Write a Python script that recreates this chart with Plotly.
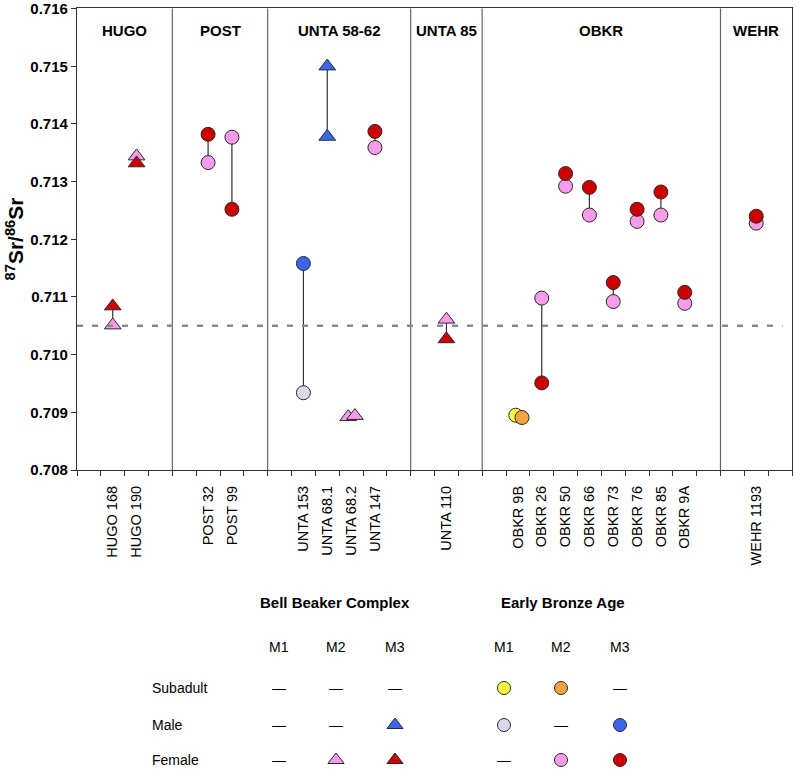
import plotly.graph_objects as go

# --- data -------------------------------------------------------------
# individuals along the x axis and their slot position (one slot = 1 unit)
samples = ["HUGO 168", "HUGO 190", "POST 32", "POST 99", "UNTA 153", "UNTA 68.1",
           "UNTA 68.2", "UNTA 147", "UNTA 110", "OBKR 9B", "OBKR 26", "OBKR 50",
           "OBKR 66", "OBKR 73", "OBKR 76", "OBKR 85", "OBKR 9A", "WEHR 1193"]
sample_pos = [1.5, 2.5, 5.5, 6.5, 9.5, 10.5, 11.5, 12.5, 15.5, 18.5, 19.5, 20.5,
              21.5, 22.5, 23.5, 24.5, 25.5, 28.5]

sites = ["HUGO", "POST", "UNTA 58-62", "UNTA 85", "OBKR", "WEHR"]
site_edges = [0, 4, 8, 14, 17, 27, 30]

y_ticks = [0.708, 0.709, 0.710, 0.711, 0.712, 0.713, 0.714, 0.715, 0.716]
local_baseline = 0.7105

# Bell Beaker Complex (triangles)
bbc_m_m3_samples = ["UNTA 68.1", "UNTA 68.1"]
bbc_m_m3_values = [0.71500, 0.71378]
bbc_f_m2_samples = ["HUGO 168", "HUGO 190", "UNTA 68.2", "UNTA 68.2", "UNTA 110"]
bbc_f_m2_values = [0.71051, 0.71344, 0.70892, 0.70894, 0.71061]
bbc_f_m3_samples = ["HUGO 168", "HUGO 190", "UNTA 110"]
bbc_f_m3_values = [0.71084, 0.71332, 0.71027]

# Early Bronze Age (circles)
eba_s_m1_samples = ["OBKR 9B"]
eba_s_m1_values = [0.70895]
eba_s_m2_samples = ["OBKR 9B"]
eba_s_m2_values = [0.70891]
eba_m_m1_samples = ["UNTA 153"]
eba_m_m1_values = [0.70934]
eba_m_m3_samples = ["UNTA 153"]
eba_m_m3_values = [0.71158]
eba_f_m2_samples = ["POST 32", "POST 99", "UNTA 147", "OBKR 26", "OBKR 50", "OBKR 66",
                    "OBKR 73", "OBKR 76", "OBKR 85", "OBKR 9A", "WEHR 1193"]
eba_f_m2_values = [0.71333, 0.71377, 0.71359, 0.71098, 0.71292, 0.71242,
                   0.71092, 0.71231, 0.71242, 0.71089, 0.71228]
eba_f_m3_samples = ["POST 32", "POST 99", "UNTA 147", "OBKR 26", "OBKR 50", "OBKR 66",
                    "OBKR 73", "OBKR 76", "OBKR 85", "OBKR 9A", "WEHR 1193"]
eba_f_m3_values = [0.71382, 0.71252, 0.71387, 0.70951, 0.71314, 0.71290,
                   0.71125, 0.71252, 0.71282, 0.71108, 0.71240]

# (name, period, sex, molar, samples, values) in drawing order
series = [
    ("eba_m_m1", "eba", "Male", "M1", eba_m_m1_samples, eba_m_m1_values),
    ("eba_m_m3", "eba", "Male", "M3", eba_m_m3_samples, eba_m_m3_values),
    ("eba_s_m1", "eba", "Subadult", "M1", eba_s_m1_samples, eba_s_m1_values),
    ("eba_s_m2", "eba", "Subadult", "M2", eba_s_m2_samples, eba_s_m2_values),
    ("eba_f_m2", "eba", "Female", "M2", eba_f_m2_samples, eba_f_m2_values),
    ("eba_f_m3", "eba", "Female", "M3", eba_f_m3_samples, eba_f_m3_values),
    ("bbc_f_m2", "bbc", "Female", "M2", bbc_f_m2_samples, bbc_f_m2_values),
    ("bbc_f_m3", "bbc", "Female", "M3", bbc_f_m3_samples, bbc_f_m3_values),
    ("bbc_m_m3", "bbc", "Male", "M3", bbc_m_m3_samples, bbc_m_m3_values),
]

# --- styling ----------------------------------------------------------
FONT = "Liberation Sans"
colors = {
    ("Subadult", "M1"): "#FFFF44",
    ("Subadult", "M2"): "#F8A344",
    ("Male", "M1"): "#D8DAF4",
    ("Male", "M3"): "#3A66EC",
    ("Female", "M2"): "#F79CEA",
    ("Female", "M3"): "#CC0000",
}
symbols = {"bbc": "triangle-up", "eba": "circle"}
sizes = {"bbc": 14.5, "eba": 14}
# small sideways shifts for points that would sit on top of each other
jitter = {("bbc_f_m2", 2): -0.12, ("bbc_f_m2", 3): 0.16,
          ("eba_s_m1", 0): -0.09, ("eba_s_m2", 0): 0.17}

pos_of = dict(zip(samples, sample_pos))

fig = go.Figure()

# connectors between the two teeth of one individual
points = {}
for name, period, sex, molar, s_list, v_list in series:
    for i, (s, v) in enumerate(zip(s_list, v_list)):
        x = pos_of[s] + jitter.get((name, i), 0)
        points.setdefault(s, []).append((x, v))
cx, cy = [], []
for s, pts in points.items():
    xs = {p[0] for p in pts}
    if len(pts) > 1 and len(xs) == 1:
        ys = [p[1] for p in pts]
        cx += [pts[0][0], pts[0][0], None]
        cy += [min(ys), max(ys), None]
fig.add_trace(go.Scatter(x=cx, y=cy, mode="lines", line=dict(color="#333333", width=1.2),
                         hoverinfo="skip", showlegend=False))

for name, period, sex, molar, s_list, v_list in series:
    xs = [pos_of[s] + jitter.get((name, i), 0) for i, s in enumerate(s_list)]
    fig.add_trace(go.Scatter(
        x=xs, y=v_list, mode="markers", name=name, showlegend=False,
        marker=dict(symbol=symbols[period], size=sizes[period], color=colors[(sex, molar)],
                    line=dict(color="#2a2a2a", width=1)),
    ))

# site dividers and local baseline
for e in site_edges[1:-1]:
    fig.add_shape(type="line", x0=e, x1=e, y0=y_ticks[0], y1=y_ticks[-1], xref="x", yref="y",
                  line=dict(color="#666666", width=1.2))
fig.add_shape(type="line", x0=0, x1=29.6, y0=local_baseline, y1=local_baseline,
              xref="x", yref="y", line=dict(color="#8a8a8a", width=2.5, dash="6px,9px"))

# site headers
for i, site in enumerate(sites):
    fig.add_annotation(x=(site_edges[i] + site_edges[i + 1]) / 2, y=0.71562, xref="x", yref="y",
                       text=site, showarrow=False,
                       font=dict(family=FONT, size=15, color="black", weight="bold"))

# --- legend matrix (drawn on a hidden pixel-scaled axis pair) ----------
legend_cols = {"bbc": [279, 336, 395], "eba": [504, 561, 620]}
legend_head_x = {"bbc": 335, "eba": 563}
legend_titles = {"bbc": "Bell Beaker Complex", "eba": "Early Bronze Age"}
legend_rows = {"Subadult": 82, "Male": 45, "Female": 10}
molars = ["M1", "M2", "M3"]
head_y, molar_y, label_x = 168, 123, 150

have = {(p, s, m) for _, p, s, m, _, _ in series}
for period in ["bbc", "eba"]:
    fig.add_annotation(x=legend_head_x[period], y=head_y, xref="x2", yref="y2",
                       text=legend_titles[period], showarrow=False,
                       font=dict(family=FONT, size=15, color="black", weight="bold"))
    lx, ly, lc = [], [], []
    for j, m in enumerate(molars):
        colx = legend_cols[period][j]
        fig.add_annotation(x=colx, y=molar_y, xref="x2", yref="y2", text=m, showarrow=False,
                           font=dict(family=FONT, size=14, color="black"))
        for sex, ry in legend_rows.items():
            if (period, sex, m) in have:
                lx.append(colx)
                ly.append(ry)
                lc.append(colors[(sex, m)])
            else:
                fig.add_annotation(x=colx, y=ry, xref="x2", yref="y2", text="\u2014",
                                   showarrow=False, font=dict(family=FONT, size=14, color="black"))
    fig.add_trace(go.Scatter(
        x=lx, y=ly, xaxis="x2", yaxis="y2", mode="markers", showlegend=False,
        cliponaxis=False, hoverinfo="skip",
        marker=dict(symbol=symbols[period], size=14 if period == "bbc" else 13, color=lc,
                    line=dict(color="#2a2a2a", width=1)),
    ))
for sex, ry in legend_rows.items():
    fig.add_annotation(x=label_x, y=ry, xref="x2", yref="y2", text=sex, showarrow=False,
                       xanchor="left", font=dict(family=FONT, size=14, color="black"))

axis_line = dict(showline=True, linecolor="#333333", linewidth=1.3, mirror=True,
                 showgrid=False, zeroline=False, automargin=False)
fig.update_layout(
    width=796, height=770,
    margin=dict(l=0, r=0, t=0, b=0),
    paper_bgcolor="white", plot_bgcolor="white",
    font=dict(family=FONT, color="black"),
    xaxis=dict(
        domain=[77 / 796, 792 / 796], range=[0, 30], anchor="y",
        tickmode="array", tickvals=sample_pos, ticktext=samples, tickangle=-90,
        ticks="", ticklabelstandoff=9, tickfont=dict(family=FONT, size=14.5, color="black"),
        minor=dict(ticks="outside", dtick=1, tick0=0, ticklen=5, tickcolor="#333333"),
        **axis_line,
    ),
    yaxis=dict(
        domain=[300 / 770, 762 / 770], range=[y_ticks[0], y_ticks[-1] + 0.00001], anchor="x",
        tickmode="array", tickvals=y_ticks, ticktext=[f"{v:.3f}" for v in y_ticks],
        ticks="outside", ticklen=5, tickcolor="#333333", ticklabeloverflow="allow",
        tickfont=dict(family=FONT, size=15, color="black", weight="bold"),
        title=dict(text="<sup>87</sup>Sr/<sup>86</sup>Sr", standoff=0,
                   font=dict(family=FONT, size=21, color="black", weight="bold")),
        **axis_line,
    ),
    xaxis2=dict(domain=[0, 1], range=[0, 796], anchor="y2", visible=False, fixedrange=True,
                automargin=False),
    yaxis2=dict(domain=[0, 170 / 770], range=[0, 170], anchor="x2", visible=False, fixedrange=True,
                automargin=False),
)

# drop the browser's default 8px page margin so the figure sits at the window corner
fig.write_html("out.html", config={"displayModeBar": False},
               post_script="document.body.style.margin='0';")
